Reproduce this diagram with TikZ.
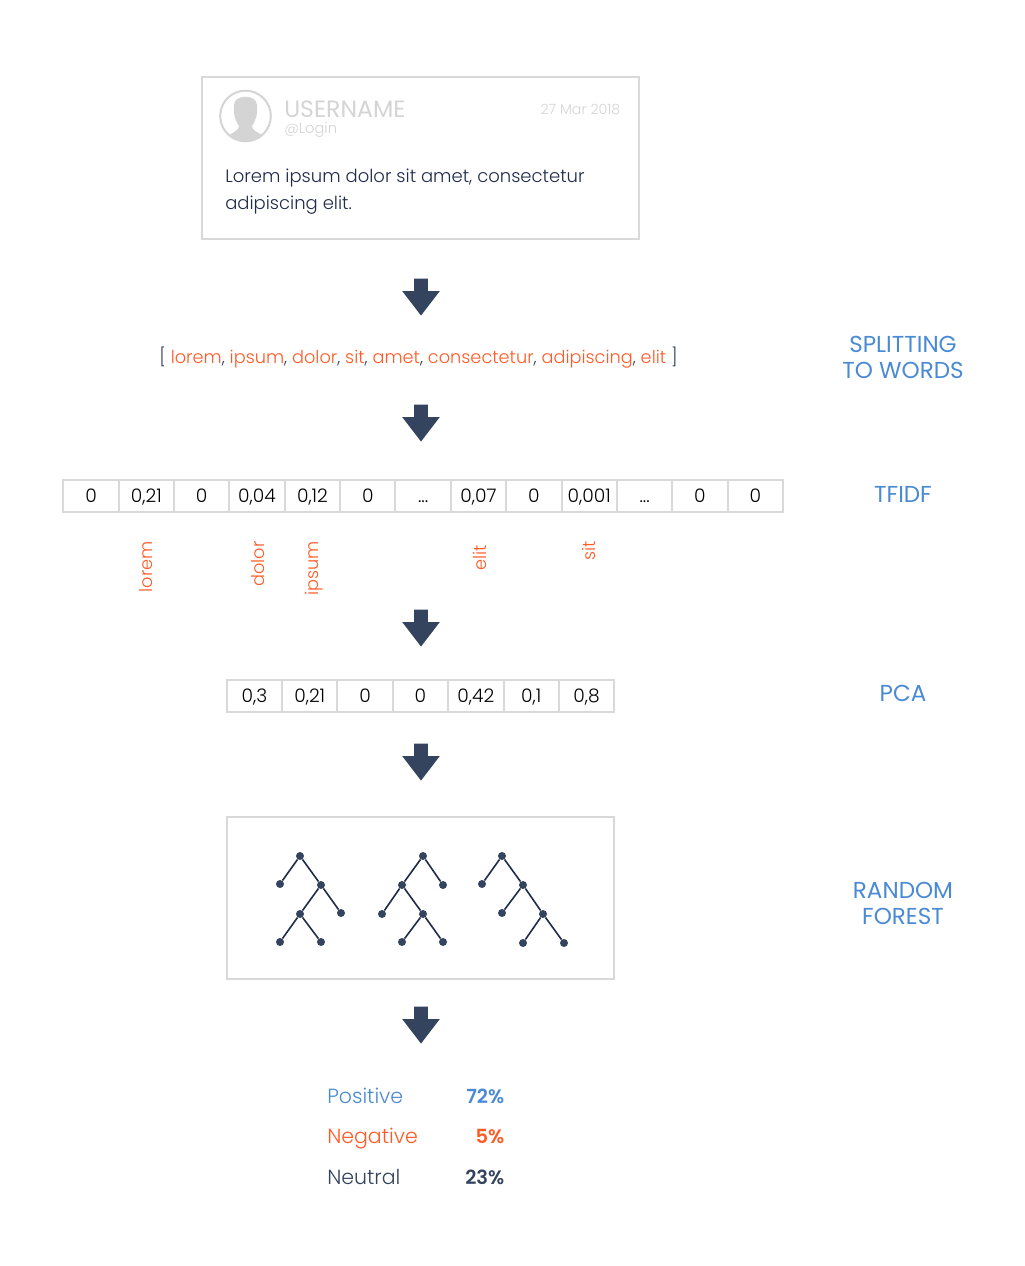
\documentclass[tikz,border=0pt]{standalone}
\usepackage{fontspec}
\setmainfont{Poppins Light}[BoldFont={Poppins SemiBold}]
\newfontfamily\regfont{Poppins}
\usetikzlibrary{shapes.arrows}
\definecolor{cardgray}{HTML}{D9D9D9}
\definecolor{softgray}{HTML}{D4D4D4}
\definecolor{inkblue}{HTML}{34435E}
\definecolor{textnavy}{HTML}{1F2B4A}
\definecolor{stepblue}{HTML}{4A8AD4}
\definecolor{wordorange}{HTML}{FF5A26}
\newcommand{\px}[1]{\fontsize{#1}{#1}\selectfont}

\begin{document}
\begin{tikzpicture}[x=0.75pt,y=-0.75pt,node distance=41.52pt,
    frame/.style={draw=cardgray,line width=1.5pt,inner sep=0pt},
    cell/.style={frame,minimum width=41.52pt,minimum height=24pt,text height=10pt,text depth=0pt,font=\px{14},text=black},
    downarrow/.style={single arrow,fill=inkblue,anchor=tip,shape border rotate=270,inner sep=4.9pt,
      minimum height=27.75pt,single arrow head extend=9pt,single arrow tip angle=75,single arrow head indent=0pt},
    steplabel/.style={font=\regfont\fontsize{17.3}{19.5}\selectfont,text=stepblue,align=center},
    vword/.style={font=\px{13.3},text=wordorange,rotate=90,anchor=east,inner sep=0pt},
    treedot/.style={circle,fill=inkblue,inner sep=0pt,minimum size=6pt},
    treeline/.style={draw=textnavy,line width=1.2pt},
    result/.style={font=\px{15.4},anchor=base west,inner sep=0pt},
    score/.style={font=\px{14.6}\bfseries,anchor=base east,inner sep=0pt}]

  \useasboundingbox (0,0) rectangle (1024,1266);

  % tweet card
  \node (card) [frame,minimum width=327.75pt,minimum height=121.5pt] at (420.3,158) {};
  \node (avatar) [circle,draw=softgray,line width=1.5pt,minimum size=38pt,inner sep=0pt] at (245.5,116) {};
  \begin{scope}
    \clip (245.5,116) circle (25.5);
    \fill[softgray] (234,105) .. controls (234,94) and (257,94) .. (257,105)
      .. controls (258,115) and (255,122) .. (252,126) .. controls (252,130) and (256,132) .. (272,140)
      -- (272,145) -- (219,145) -- (219,140) .. controls (235,132) and (239,130) .. (239,126)
      .. controls (236,122) and (233,115) .. (234,105) -- cycle;
  \end{scope}
  \node (user) [font=\regfont\px{17.7},text=softgray,anchor=west,inner sep=0pt] at (284,109) {USERNAME};
  \node (login) [font=\px{11},text=softgray,anchor=west,inner sep=0pt] at (284,130) {@Login};
  \node (date) [font=\px{10.6},text=softgray,anchor=east,inner sep=0pt] at (620.5,109) {27 Mar 2018};
  \node (tweet) [font=\fontsize{13.5}{20.25}\selectfont,text=textnavy,align=left,anchor=north west,inner sep=0pt] at (225,169)
    {Lorem ipsum dolor sit amet, consectetur\\adipiscing elit.};

  \node (arrow1) [downarrow] at (421,316) {};

  % word list
  \node (words) [font=\px{13.3},text=inkblue,inner sep=0pt] at (418.5,358)
    {[ \textcolor{wordorange}{lorem}, \textcolor{wordorange}{ipsum}, \textcolor{wordorange}{dolor}, \textcolor{wordorange}{sit}, \textcolor{wordorange}{amet}, \textcolor{wordorange}{consectetur}, \textcolor{wordorange}{adipiscing}, \textcolor{wordorange}{elit} ]};
  \node (split) [steplabel] at (903,357.5) {SPLITTING\\TO WORDS};

  \node (arrow2) [downarrow] at (421,442) {};

  % tfidf row
  \node (t1) [cell] at (91,496) {0};
  \node (t2) [cell,right of=t1] {0,21};
  \node (t3) [cell,right of=t2] {0};
  \node (t4) [cell,right of=t3] {0,04};
  \node (t5) [cell,right of=t4] {0,12};
  \node (t6) [cell,right of=t5] {0};
  \node (t7) [cell,right of=t6] {...};
  \node (t8) [cell,right of=t7] {0,07};
  \node (t9) [cell,right of=t8] {0};
  \node (t10) [cell,right of=t9] {0,001};
  \node (t11) [cell,right of=t10] {...};
  \node (t12) [cell,right of=t11] {0};
  \node (t13) [cell,right of=t12] {0};
  \node (tfidf) [steplabel] at (903,494) {TFIDF};

  \node (lorem) [vword] at (146,541) {lorem};
  \node (dolor) [vword] at (258,541) {dolor};
  \node (ipsum) [vword] at (314.5,541) {ipsum};
  \node (elit) [vword] at (480,545) {elit};
  \node (sit) [vword] at (589,541) {sit};

  \node (arrow3) [downarrow] at (421,647) {};

  % pca row
  \node (p1) [cell] at (254.4,696) {0,3};
  \node (p2) [cell,right of=p1] {0,21};
  \node (p3) [cell,right of=p2] {0};
  \node (p4) [cell,right of=p3] {0};
  \node (p5) [cell,right of=p4] {0,42};
  \node (p6) [cell,right of=p5] {0,1};
  \node (p7) [cell,right of=p6] {0,8};
  \node (pca) [steplabel] at (903,693) {PCA};

  \node (arrow4) [downarrow] at (421,781) {};

  % forest
  \node (forest) [frame,minimum width=290pt,minimum height=121.5pt] at (420.5,898) {};
  \node (a0) [treedot] at (300,856) {};
  \node (a1) [treedot] at (280,884) {};
  \node (a2) [treedot] at (321,885) {};
  \node (a3) [treedot] at (300,914) {};
  \node (a4) [treedot] at (341,913) {};
  \node (a5) [treedot] at (280,942) {};
  \node (a6) [treedot] at (321,942) {};
  \node (b0) [treedot] at (423,856) {};
  \node (b1) [treedot] at (402,885) {};
  \node (b2) [treedot] at (443,885) {};
  \node (b3) [treedot] at (382,914) {};
  \node (b4) [treedot] at (423,914) {};
  \node (b5) [treedot] at (402,942) {};
  \node (b6) [treedot] at (443,942) {};
  \node (c0) [treedot] at (502,856) {};
  \node (c1) [treedot] at (482,884) {};
  \node (c2) [treedot] at (523,885) {};
  \node (c3) [treedot] at (502,913) {};
  \node (c4) [treedot] at (543,914) {};
  \node (c5) [treedot] at (523,943) {};
  \node (c6) [treedot] at (564,943) {};

  \path[treeline]
    (a0) edge (a1)
         edge (a2)
    (a2) edge (a3)
         edge (a4)
    (a3) edge (a5)
         edge (a6)
    (b0) edge (b1)
         edge (b2)
    (b1) edge (b3)
         edge (b4)
    (b4) edge (b5)
         edge (b6)
    (c0) edge (c1)
         edge (c2)
    (c2) edge (c3)
         edge (c4)
    (c4) edge (c5)
         edge (c6);
  \node (rf) [steplabel] at (903,903.5) {RANDOM\\FOREST};

  \node (arrow5) [downarrow] at (421,1044) {};

  % results
  \node (pos) [result,text=stepblue] at (327,1103) {Positive};
  \node (neg) [result,text=wordorange] at (327,1143.5) {Negative};
  \node (neu) [result,text=inkblue] at (327,1184) {Neutral};
  \node (posv) [score,text=stepblue] at (504.5,1103) {72\%};
  \node (negv) [score,text=wordorange] at (504.5,1143.5) {5\%};
  \node (neuv) [score,text=inkblue] at (504.5,1184) {23\%};
\end{tikzpicture}
\end{document}
